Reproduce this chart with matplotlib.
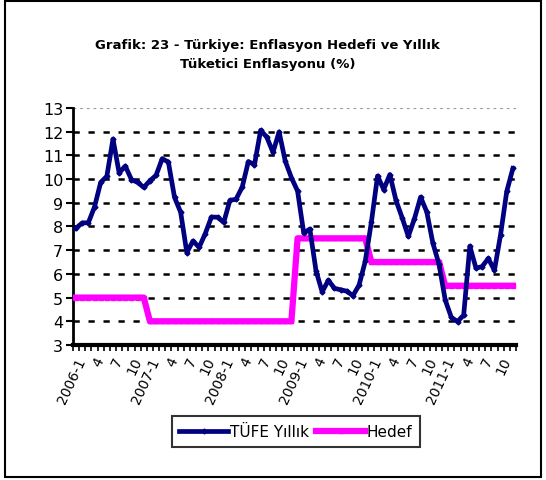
import numpy as np
import matplotlib
matplotlib.use('Agg')
import matplotlib.pyplot as plt
from matplotlib.patches import Rectangle

# monthly data 2006-1 .. 2011-12
years = [2006, 2007, 2008, 2009, 2010, 2011]
tufe = [7.93, 8.15, 8.16, 8.83, 9.86, 10.12, 11.69, 10.26, 10.55, 9.98, 9.86, 9.65,
        9.93, 10.16, 10.86, 10.72, 9.23, 8.60, 6.90, 7.39, 7.12, 7.70, 8.40, 8.39,
        8.17, 9.10, 9.15, 9.66, 10.74, 10.61, 12.06, 11.77, 11.13, 11.99, 10.76, 10.06,
        9.50, 7.73, 7.89, 6.13, 5.24, 5.73, 5.39, 5.33, 5.27, 5.08, 5.53, 6.53,
        8.19, 10.13, 9.56, 10.19, 9.10, 8.37, 7.58, 8.33, 9.24, 8.62, 7.29, 6.40,
        4.90, 4.16, 3.99, 4.26, 7.17, 6.24, 6.31, 6.65, 6.15, 7.66, 9.48, 10.45]
hedef_yearly = [5.0, 4.0, 4.0, 7.5, 6.5, 5.5]
hedef = [h for h in hedef_yearly for _ in range(12)]

labels = []
for y in years:
    for m in range(1, 13):
        if m == 1:
            labels.append('%d-1' % y)
        elif m in (4, 7, 10):
            labels.append(str(m))
        else:
            labels.append('')

x = np.arange(len(tufe))

fig = plt.figure(figsize=(5.46, 4.81), dpi=100)
ax = fig.add_axes([0.1337, 0.2807, 0.8113, 0.4927])

ax.plot(x, tufe, color='#000080', linewidth=3.4, marker='D', markersize=2.5,
        label='TÜFE Yıllık', zorder=4)
ax.plot(x, hedef, color='#FF00FF', linewidth=4.5, marker='s', markersize=3,
        label='Hedef', zorder=3)

ax.set_xlim(-0.5, len(tufe) - 0.5)
ax.set_ylim(3, 13)
ax.set_yticks(range(3, 14))
ax.tick_params(axis='y', labelsize=11.5, length=5, width=1.5, direction='out', pad=2)

major = [i for i, l in enumerate(labels) if l]
ax.set_xticks(major)
ax.set_xticklabels([labels[i] for i in major], rotation=65, fontsize=10,
                   ha='right', va='top', rotation_mode='anchor')
ax.tick_params(axis='x', length=0, pad=7)
ax.set_xticks(np.arange(-0.5, len(tufe), 1.0), minor=True)
ax.tick_params(axis='x', which='minor', length=4, width=1.2, direction='out')

ax.yaxis.grid(True, color='k', linestyle=(0, (2.5, 3.5)), linewidth=1.8)
gl = ax.get_ygridlines()
gl[-1].set_color('#999999')
gl[-1].set_linewidth(0.8)
ax.set_axisbelow(True)

for s in ['top', 'right']:
    ax.spines[s].set_visible(False)
ax.spines['left'].set_linewidth(2)
ax.spines['bottom'].set_linewidth(3)

fig.text(0.49, 0.886, 'Grafik: 23 - Türkiye: Enflasyon Hedefi ve Yıllık\nTüketici Enflasyonu (%)',
         ha='center', va='center', fontsize=9.5, fontweight='bold', linespacing=1.6)

leg = ax.legend(loc='center', bbox_to_anchor=(0.503, -0.365), ncol=2, fontsize=11,
                frameon=True, fancybox=False, edgecolor='k', handlelength=3.2,
                handletextpad=0.1, columnspacing=0.5, borderpad=0.5)
leg.get_frame().set_linewidth(1.5)

fig.patches.append(Rectangle((0.009, 0.006), 0.982, 0.99, transform=fig.transFigure,
                             fill=False, edgecolor='k', linewidth=1.5))

fig.savefig('out.png', dpi=100)
